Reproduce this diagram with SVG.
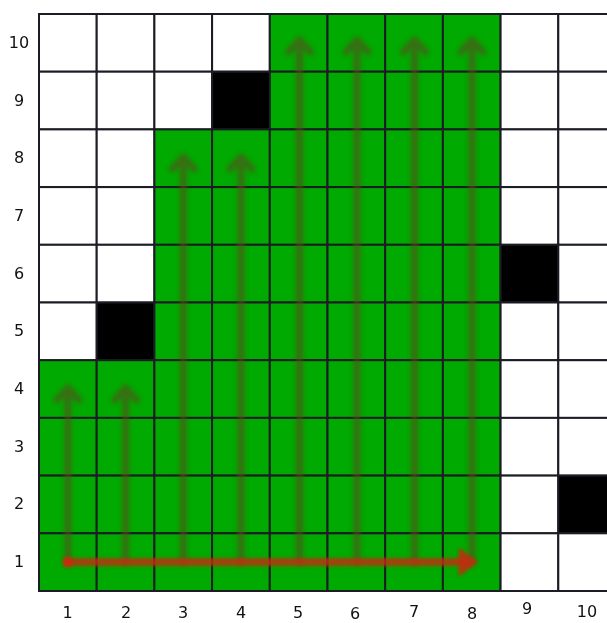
<svg xmlns="http://www.w3.org/2000/svg" width="607" height="623" viewBox="0 0 607 623">
<style>
.w{fill:#ffffff;stroke:#1c1c24;stroke-width:2}
.g{fill:#00aa00;stroke:#1c1c24;stroke-width:2}
.b{fill:#000000;stroke:#1c1c24;stroke-width:2}
.lbl{font-family:"DejaVu Sans",sans-serif;font-size:16px;fill:#111;text-anchor:middle}
.va{stroke:#5a4a22;stroke-width:7;fill:none;opacity:0.6;stroke-linecap:round;stroke-linejoin:round}
.ra{stroke:#c42a0a;stroke-width:8;fill:none;opacity:0.8;stroke-linecap:round}
</style>
<defs>
<filter id="blur" x="-20%" y="-5%" width="140%" height="110%"><feGaussianBlur stdDeviation="2.2"/></filter>
<filter id="blur2" x="-5%" y="-50%" width="110%" height="200%"><feGaussianBlur stdDeviation="1.6"/></filter>
</defs>
<rect width="607" height="623" fill="#ffffff"/>
<g id="grid">
<!-- row 10 -->
<rect class="w" x="39" y="14" width="57.7" height="57.7"/><rect class="w" x="96.7" y="14" width="57.7" height="57.7"/><rect class="w" x="154.4" y="14" width="57.7" height="57.7"/><rect class="w" x="212.1" y="14" width="57.7" height="57.7"/><rect class="g" x="269.8" y="14" width="57.7" height="57.7"/><rect class="g" x="327.5" y="14" width="57.7" height="57.7"/><rect class="g" x="385.2" y="14" width="57.7" height="57.7"/><rect class="g" x="442.9" y="14" width="57.7" height="57.7"/><rect class="w" x="500.6" y="14" width="57.7" height="57.7"/><rect class="w" x="558.3" y="14" width="57.7" height="57.7"/>
<!-- row 9 -->
<rect class="w" x="39" y="71.7" width="57.7" height="57.7"/><rect class="w" x="96.7" y="71.7" width="57.7" height="57.7"/><rect class="w" x="154.4" y="71.7" width="57.7" height="57.7"/><rect class="b" x="212.1" y="71.7" width="57.7" height="57.7"/><rect class="g" x="269.8" y="71.7" width="57.7" height="57.7"/><rect class="g" x="327.5" y="71.7" width="57.7" height="57.7"/><rect class="g" x="385.2" y="71.7" width="57.7" height="57.7"/><rect class="g" x="442.9" y="71.7" width="57.7" height="57.7"/><rect class="w" x="500.6" y="71.7" width="57.7" height="57.7"/><rect class="w" x="558.3" y="71.7" width="57.7" height="57.7"/>
<!-- row 8 -->
<rect class="w" x="39" y="129.4" width="57.7" height="57.7"/><rect class="w" x="96.7" y="129.4" width="57.7" height="57.7"/><rect class="g" x="154.4" y="129.4" width="57.7" height="57.7"/><rect class="g" x="212.1" y="129.4" width="57.7" height="57.7"/><rect class="g" x="269.8" y="129.4" width="57.7" height="57.7"/><rect class="g" x="327.5" y="129.4" width="57.7" height="57.7"/><rect class="g" x="385.2" y="129.4" width="57.7" height="57.7"/><rect class="g" x="442.9" y="129.4" width="57.7" height="57.7"/><rect class="w" x="500.6" y="129.4" width="57.7" height="57.7"/><rect class="w" x="558.3" y="129.4" width="57.7" height="57.7"/>
<!-- row 7 -->
<rect class="w" x="39" y="187.1" width="57.7" height="57.7"/><rect class="w" x="96.7" y="187.1" width="57.7" height="57.7"/><rect class="g" x="154.4" y="187.1" width="57.7" height="57.7"/><rect class="g" x="212.1" y="187.1" width="57.7" height="57.7"/><rect class="g" x="269.8" y="187.1" width="57.7" height="57.7"/><rect class="g" x="327.5" y="187.1" width="57.7" height="57.7"/><rect class="g" x="385.2" y="187.1" width="57.7" height="57.7"/><rect class="g" x="442.9" y="187.1" width="57.7" height="57.7"/><rect class="w" x="500.6" y="187.1" width="57.7" height="57.7"/><rect class="w" x="558.3" y="187.1" width="57.7" height="57.7"/>
<!-- row 6 -->
<rect class="w" x="39" y="244.8" width="57.7" height="57.7"/><rect class="w" x="96.7" y="244.8" width="57.7" height="57.7"/><rect class="g" x="154.4" y="244.8" width="57.7" height="57.7"/><rect class="g" x="212.1" y="244.8" width="57.7" height="57.7"/><rect class="g" x="269.8" y="244.8" width="57.7" height="57.7"/><rect class="g" x="327.5" y="244.8" width="57.7" height="57.7"/><rect class="g" x="385.2" y="244.8" width="57.7" height="57.7"/><rect class="g" x="442.9" y="244.8" width="57.7" height="57.7"/><rect class="b" x="500.6" y="244.8" width="57.7" height="57.7"/><rect class="w" x="558.3" y="244.8" width="57.7" height="57.7"/>
<!-- row 5 -->
<rect class="w" x="39" y="302.5" width="57.7" height="57.7"/><rect class="b" x="96.7" y="302.5" width="57.7" height="57.7"/><rect class="g" x="154.4" y="302.5" width="57.7" height="57.7"/><rect class="g" x="212.1" y="302.5" width="57.7" height="57.7"/><rect class="g" x="269.8" y="302.5" width="57.7" height="57.7"/><rect class="g" x="327.5" y="302.5" width="57.7" height="57.7"/><rect class="g" x="385.2" y="302.5" width="57.7" height="57.7"/><rect class="g" x="442.9" y="302.5" width="57.7" height="57.7"/><rect class="w" x="500.6" y="302.5" width="57.7" height="57.7"/><rect class="w" x="558.3" y="302.5" width="57.7" height="57.7"/>
<!-- row 4 -->
<rect class="g" x="39" y="360.2" width="57.7" height="57.7"/><rect class="g" x="96.7" y="360.2" width="57.7" height="57.7"/><rect class="g" x="154.4" y="360.2" width="57.7" height="57.7"/><rect class="g" x="212.1" y="360.2" width="57.7" height="57.7"/><rect class="g" x="269.8" y="360.2" width="57.7" height="57.7"/><rect class="g" x="327.5" y="360.2" width="57.7" height="57.7"/><rect class="g" x="385.2" y="360.2" width="57.7" height="57.7"/><rect class="g" x="442.9" y="360.2" width="57.7" height="57.7"/><rect class="w" x="500.6" y="360.2" width="57.7" height="57.7"/><rect class="w" x="558.3" y="360.2" width="57.7" height="57.7"/>
<!-- row 3 -->
<rect class="g" x="39" y="417.9" width="57.7" height="57.7"/><rect class="g" x="96.7" y="417.9" width="57.7" height="57.7"/><rect class="g" x="154.4" y="417.9" width="57.7" height="57.7"/><rect class="g" x="212.1" y="417.9" width="57.7" height="57.7"/><rect class="g" x="269.8" y="417.9" width="57.7" height="57.7"/><rect class="g" x="327.5" y="417.9" width="57.7" height="57.7"/><rect class="g" x="385.2" y="417.9" width="57.7" height="57.7"/><rect class="g" x="442.9" y="417.9" width="57.7" height="57.7"/><rect class="w" x="500.6" y="417.9" width="57.7" height="57.7"/><rect class="w" x="558.3" y="417.9" width="57.7" height="57.7"/>
<!-- row 2 -->
<rect class="g" x="39" y="475.6" width="57.7" height="57.7"/><rect class="g" x="96.7" y="475.6" width="57.7" height="57.7"/><rect class="g" x="154.4" y="475.6" width="57.7" height="57.7"/><rect class="g" x="212.1" y="475.6" width="57.7" height="57.7"/><rect class="g" x="269.8" y="475.6" width="57.7" height="57.7"/><rect class="g" x="327.5" y="475.6" width="57.7" height="57.7"/><rect class="g" x="385.2" y="475.6" width="57.7" height="57.7"/><rect class="g" x="442.9" y="475.6" width="57.7" height="57.7"/><rect class="w" x="500.6" y="475.6" width="57.7" height="57.7"/><rect class="b" x="558.3" y="475.6" width="57.7" height="57.7"/>
<!-- row 1 -->
<rect class="g" x="39" y="533.3" width="57.7" height="57.7"/><rect class="g" x="96.7" y="533.3" width="57.7" height="57.7"/><rect class="g" x="154.4" y="533.3" width="57.7" height="57.7"/><rect class="g" x="212.1" y="533.3" width="57.7" height="57.7"/><rect class="g" x="269.8" y="533.3" width="57.7" height="57.7"/><rect class="g" x="327.5" y="533.3" width="57.7" height="57.7"/><rect class="g" x="385.2" y="533.3" width="57.7" height="57.7"/><rect class="g" x="442.9" y="533.3" width="57.7" height="57.7"/><rect class="w" x="500.6" y="533.3" width="57.7" height="57.7"/><rect class="w" x="558.3" y="533.3" width="57.7" height="57.7"/>
</g>
<g id="connectors" filter="url(#blur)">
<path class="va" d="M67.9,562 V388 M57,400 L67.9,388 L78.8,400"/>
<path class="va" d="M125.6,562 V388 M114.7,400 L125.6,388 L136.5,400"/>
<path class="va" d="M183.3,562 V157 M172.4,169 L183.3,157 L194.2,169"/>
<path class="va" d="M241,562 V157 M230.1,169 L241,157 L251.9,169"/>
<path class="va" d="M299.5,562 V40 M288.6,52 L299.5,40 L310.4,52"/>
<path class="va" d="M357,562 V40 M346.1,52 L357,40 L367.9,52"/>
<path class="va" d="M414.5,562 V40 M403.6,52 L414.5,40 L425.4,52"/>
<path class="va" d="M472,562 V40 M461.1,52 L472,40 L482.9,52"/>
</g>
<g id="red-arrow" filter="url(#blur2)">
<circle cx="67.9" cy="562" r="5.5" fill="#d42a0a" opacity="0.9"/>
<path class="ra" d="M67.9,562 H466"/>
<path d="M460,550 L476,562 L460,574 Z" fill="#c42a0a" opacity="0.85" stroke="#c42a0a" stroke-width="3" stroke-linejoin="round"/>
</g>
<g id="labels">
<text class="lbl" x="19" y="48">10</text>
<text class="lbl" x="19" y="106">9</text>
<text class="lbl" x="19" y="163">8</text>
<text class="lbl" x="19" y="221">7</text>
<text class="lbl" x="19" y="279">6</text>
<text class="lbl" x="19" y="336">5</text>
<text class="lbl" x="19" y="394">4</text>
<text class="lbl" x="19" y="452">3</text>
<text class="lbl" x="19" y="509">2</text>
<text class="lbl" x="19" y="567">1</text>
<text class="lbl" x="67.5" y="618">1</text>
<text class="lbl" x="126" y="618">2</text>
<text class="lbl" x="183" y="618">3</text>
<text class="lbl" x="241" y="618">4</text>
<text class="lbl" x="298" y="618">5</text>
<text class="lbl" x="355" y="619">6</text>
<text class="lbl" x="414" y="617">7</text>
<text class="lbl" x="472" y="619">8</text>
<text class="lbl" x="527" y="614">9</text>
<text class="lbl" x="587" y="617">10</text>
</g>
</svg>
